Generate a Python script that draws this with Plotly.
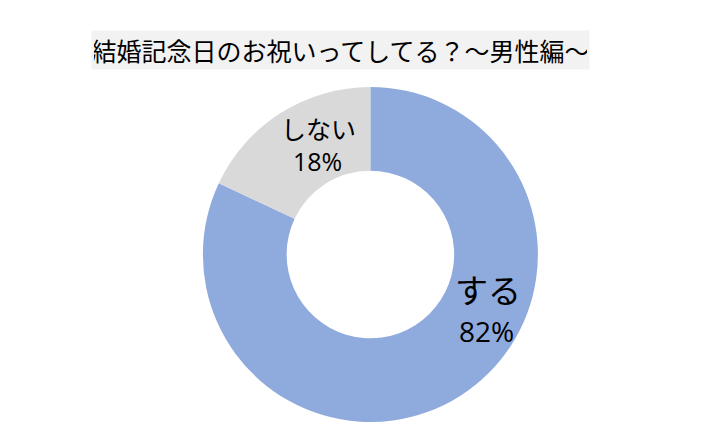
import plotly.graph_objects as go

labels = ["する", "しない"]
values = [82, 18]
colors = ["#8faadc", "#d9d9d9"]
title_text = "結婚記念日のお祝いってしてる？～男性編～"

W, H = 722, 446
FONT = "Noto Sans CJK JP, Noto Sans, sans-serif"
NUM_FONT = "Open Sans, Noto Sans, sans-serif"

fig = go.Figure()
fig.add_trace(go.Pie(
    labels=labels,
    values=values,
    hole=0.5,
    sort=False,
    direction="clockwise",
    rotation=0,
    marker=dict(colors=colors, line=dict(width=0)),
    textinfo="none",
    hoverinfo="label+percent",
    showlegend=False,
    domain=dict(x=[0.281, 0.745], y=[0.0538, 0.805]),
))

annotations = [
    dict(text=title_text, x=340.5 / W, y=1 - 50 / H, xref="paper", yref="paper",
         xanchor="center", yanchor="middle", showarrow=False,
         font=dict(size=25, color="#000000", family=FONT),
         bgcolor="#f2f2f2", width=493, height=34, borderpad=2),
    dict(text=labels[1], x=318 / W, y=1 - 128 / H, xref="paper", yref="paper",
         xanchor="center", yanchor="middle", showarrow=False,
         font=dict(size=25, color="#000000", family=FONT)),
    dict(text=f"{values[1]}%", x=317 / W, y=1 - 161 / H, xref="paper", yref="paper",
         xanchor="center", yanchor="middle", showarrow=False,
         font=dict(size=25, color="#000000", family=NUM_FONT)),
    dict(text=labels[0], x=488 / W, y=1 - 289 / H, xref="paper", yref="paper",
         xanchor="center", yanchor="middle", showarrow=False,
         font=dict(size=33, color="#000000", family=FONT)),
    dict(text=f"{values[0]}%", x=486 / W, y=1 - 331 / H, xref="paper", yref="paper",
         xanchor="center", yanchor="middle", showarrow=False,
         font=dict(size=28, color="#000000", family=NUM_FONT)),
]

fig.update_layout(
    width=W, height=H,
    margin=dict(l=0, r=0, t=0, b=0),
    paper_bgcolor="#ffffff",
    plot_bgcolor="#ffffff",
    annotations=annotations,
)

fig.write_html("out.html")
